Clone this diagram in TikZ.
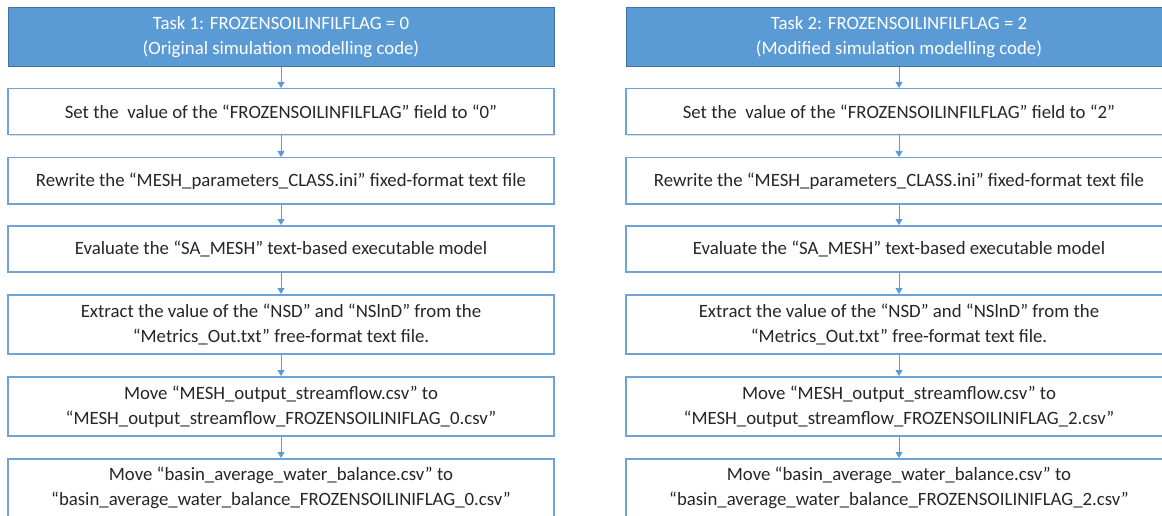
\documentclass[tikz,border=0pt]{standalone}
\usepackage{fontspec}
\setmainfont{Carlito}
\usepackage{xcolor}
\usetikzlibrary{arrows.meta,shadows}
\definecolor{hdrblue}{HTML}{5B9BD5}
\definecolor{hdredge}{HTML}{41719C}
\definecolor{boxedge}{HTML}{6FA3D8}
\definecolor{txtgray}{HTML}{262626}
\tikzset{
	hdr/.style={draw=hdredge,fill=hdrblue,line width=1pt,text=white,align=center,
		minimum width=546pt,minimum height=59pt,anchor=north,
		font=\fontsize{18.8pt}{25pt}\selectfont},
	stepbox/.style={draw=boxedge,fill=white,line width=1.5pt,text=txtgray,align=center,
		minimum width=546pt,anchor=north,font=\fontsize{18.8pt}{25pt}\selectfont,
		drop shadow={shadow xshift=1pt,shadow yshift=-1pt,opacity=0.25,fill=gray}},
	flow/.style={draw=hdrblue,line width=0.8pt,-{Triangle[width=7pt,length=6pt]}}
}
\begin{document}
\begin{tikzpicture}[x=1pt,y=-1pt]
			\useasboundingbox (0,0) rectangle (1162,516);
			\clip (0,0) rectangle (1162,516);
			\node[hdr] (ta) at (281,7) {Task 1: FROZENSOILINFILFLAG = 0\\(Original simulation modelling code)};
			\node[stepbox,minimum height=46pt] (sa) at (281,88) {Set the\ \ value of the “FROZENSOILINFILFLAG” field to “0”};
			\node[stepbox,minimum height=46pt] (ra) at (281,157) {Rewrite the “MESH\_parameters\_CLASS.ini” fixed-format text file};
			\node[stepbox,minimum height=46pt] (ea) at (281,225) {Evaluate the “SA\_MESH” text-based executable model};
			\node[stepbox,minimum height=59pt] (xa) at (281,294) {Extract the value of the “NSD” and “NSlnD” from the\\“Metrics\_Out.txt” free-format text file.};
			\node[stepbox,minimum height=59pt] (ma) at (281,376) {Move “MESH\_output\_streamflow.csv” to\\“MESH\_output\_streamflow\_FROZENSOILINIFLAG\_0.csv”};
			\node[stepbox,minimum height=59pt] (ba) at (281,458) {Move “basin\_average\_water\_balance.csv” to\\“basin\_average\_water\_balance\_FROZENSOILINIFLAG\_0.csv”};
			\node[hdr] (tb) at (899,7) {Task 2: FROZENSOILINFILFLAG = 2\\(Modified simulation modelling code)};
			\node[stepbox,minimum height=46pt] (sb) at (899,88) {Set the\ \ value of the “FROZENSOILINFILFLAG” field to “2”};
			\node[stepbox,minimum height=46pt] (rb) at (899,157) {Rewrite the “MESH\_parameters\_CLASS.ini” fixed-format text file};
			\node[stepbox,minimum height=46pt] (eb) at (899,225) {Evaluate the “SA\_MESH” text-based executable model};
			\node[stepbox,minimum height=59pt] (xb) at (899,294) {Extract the value of the “NSD” and “NSlnD” from the\\“Metrics\_Out.txt” free-format text file.};
			\node[stepbox,minimum height=59pt] (mb) at (899,376) {Move “MESH\_output\_streamflow.csv” to\\“MESH\_output\_streamflow\_FROZENSOILINIFLAG\_2.csv”};
			\node[stepbox,minimum height=59pt] (bb) at (899,458) {Move “basin\_average\_water\_balance.csv” to\\“basin\_average\_water\_balance\_FROZENSOILINIFLAG\_2.csv”};
			\draw[flow] (ta) -- (sa);
			\draw[flow] (sa) -- (ra);
			\draw[flow] (ra) -- (ea);
			\draw[flow] (ea) -- (xa);
			\draw[flow] (xa) -- (ma);
			\draw[flow] (ma) -- (ba);
			\draw[flow] (tb) -- (sb);
			\draw[flow] (sb) -- (rb);
			\draw[flow] (rb) -- (eb);
			\draw[flow] (eb) -- (xb);
			\draw[flow] (xb) -- (mb);
			\draw[flow] (mb) -- (bb);
		\end{tikzpicture}
\end{document}
